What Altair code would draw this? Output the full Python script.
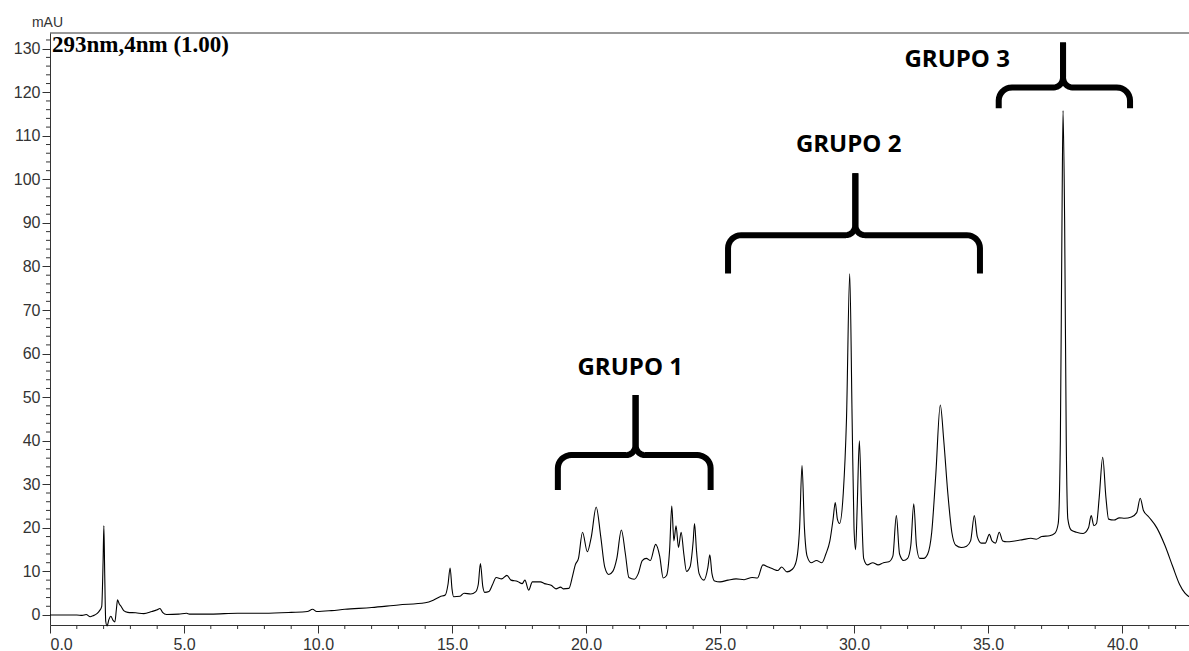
import math

import altair as alt
import pandas as pd

# ---- chromatogram trace: retention time (min) and absorbance (mAU) ----
time_min = [
    0.0, 1.0, 1.2, 1.35, 1.5, 1.6, 1.75, 1.85, 1.93, 1.98, 2.01, 2.04, 2.08, 2.13, 2.2,
    2.27, 2.35, 2.42, 2.48, 2.52, 2.58, 2.65, 2.75, 2.9, 3.2, 3.5, 3.8, 4.0, 4.1, 4.2,
    4.35, 4.8, 5.1, 5.2, 6.0, 7.0, 8.0, 9.0, 9.6, 9.8, 9.95, 10.5, 11.0, 12.0, 13.0,
    14.0, 14.3, 14.55, 14.75, 14.85, 14.93, 15.0, 15.06, 15.3, 15.45, 15.7, 15.88, 15.98, 16.06, 16.15,
    16.22, 16.38, 16.5, 16.65, 16.85, 17.05, 17.2, 17.45, 17.62, 17.72, 17.86, 18.0, 18.3, 18.45, 18.7,
    18.88, 19.05, 19.15, 19.36, 19.5, 19.6, 19.72, 19.87, 20.05, 20.2, 20.38, 20.55, 20.7, 20.85, 21.0,
    21.15, 21.32, 21.47, 21.6, 21.8, 21.95, 22.1, 22.25, 22.4, 22.6, 22.75, 22.88, 23.0, 23.12, 23.2,
    23.28, 23.36, 23.45, 23.55, 23.65, 23.75, 23.88, 24.0, 24.05, 24.12, 24.22, 24.4, 24.55, 24.62, 24.7,
    24.8, 25.0, 25.3, 25.6, 25.9, 26.2, 26.4, 26.6, 26.8, 27.0, 27.15, 27.3, 27.5, 27.7, 27.85,
    27.97, 28.06, 28.15, 28.25, 28.4, 28.6, 28.8, 28.95, 29.1, 29.22, 29.3, 29.38, 29.46, 29.6, 29.72,
    29.84, 29.93, 30.0, 30.06, 30.12, 30.2, 30.28, 30.36, 30.5, 30.7, 30.9, 31.1, 31.3, 31.45, 31.58,
    31.7, 31.85, 32.0, 32.12, 32.23, 32.33, 32.45, 32.6, 32.75, 32.9, 33.05, 33.22, 33.35, 33.5, 33.65,
    33.8, 34.0, 34.2, 34.35, 34.49, 34.6, 34.75, 34.9, 35.05, 35.15, 35.28, 35.42, 35.55, 35.7, 36.0,
    36.3, 36.6, 36.8, 37.0, 37.3, 37.5, 37.62, 37.7, 37.76, 37.8, 37.86, 37.92, 37.98, 38.1, 38.3,
    38.55, 38.75, 38.85, 38.95, 39.05, 39.15, 39.28, 39.4, 39.5, 39.7, 39.9, 40.1, 40.35, 40.55, 40.68,
    40.8, 41.0, 41.3, 41.6, 41.9, 42.15, 42.35, 42.5,
]
absorbance = [
    0.0, 0.0, -0.1, 0.1, -0.4, -0.2, 0.3, 1.0, 2.0, 12.0, 20.5, 10.0, -1.5, -2.5, -1.0,
    -0.3, -1.2, -1.6, 1.5, 3.5, 2.6, 2.0, 1.0, 0.6, 0.5, 0.3, 0.8, 1.2, 1.5, 0.6,
    0.1, 0.2, 0.4, 0.2, 0.2, 0.4, 0.4, 0.6, 0.8, 1.3, 0.8, 1.0, 1.3, 1.7, 2.3,
    2.8, 3.4, 4.2, 4.6, 7.0, 10.8, 6.0, 4.2, 4.3, 5.0, 4.8, 5.3, 7.0, 11.8, 6.5,
    5.2, 5.4, 6.8, 8.6, 8.3, 9.1, 8.0, 7.7, 7.2, 8.0, 5.7, 7.6, 7.6, 7.2, 6.8,
    6.0, 6.4, 6.0, 6.1, 9.0, 11.5, 13.0, 19.0, 14.5, 18.0, 24.8, 18.0, 11.0, 9.3, 10.0,
    13.0, 19.5, 14.0, 8.6, 8.2, 9.5, 12.5, 13.0, 12.5, 16.2, 13.5, 8.5, 9.0, 15.0, 25.0,
    17.0, 20.5, 15.5, 19.0, 14.0, 10.0, 11.0, 17.0, 21.0, 15.0, 9.5, 8.0, 11.0, 13.8, 9.5,
    7.8, 7.6, 8.0, 8.3, 8.1, 8.6, 8.5, 11.5, 11.0, 10.5, 10.2, 11.0, 9.9, 10.5, 12.5,
    20.0, 34.3, 20.0, 13.5, 12.0, 12.5, 12.0, 14.0, 17.0, 22.0, 25.8, 22.0, 21.0, 28.0, 45.0,
    78.3, 45.0, 20.0, 15.0, 25.0, 40.0, 25.0, 13.0, 11.5, 12.0, 11.5, 12.0, 12.2, 13.5, 22.8,
    14.0, 12.5, 13.0, 16.0, 25.5, 16.0, 13.0, 13.0, 14.0, 19.0, 32.0, 48.2, 40.0, 28.0, 19.0,
    16.0, 15.5, 15.8, 17.0, 22.8, 18.0, 16.5, 16.5, 18.5, 17.0, 16.5, 19.0, 17.0, 16.8, 17.0,
    17.3, 17.6, 17.4, 18.0, 18.2, 18.8, 21.0, 40.0, 90.0, 115.8, 90.0, 40.0, 22.0, 19.5, 19.0,
    18.7, 20.0, 22.8, 20.5, 21.0, 27.0, 36.2, 27.0, 22.0, 21.8, 22.3, 22.2, 22.5, 23.5, 26.8,
    24.0, 22.5, 20.0, 16.0, 11.0, 7.0, 5.0, 4.2,
]

# ---- axis ticks ----
x_major = [0, 5, 10, 15, 20, 25, 30, 35, 40]
x_minor = [v for v in range(0, 43) if v % 5 != 0]
y_major = list(range(0, 131, 10))
y_minor = [v for v in range(0, 133, 2) if v % 10 != 0]

# ---- peak-group brackets ----
group_labels = ["GRUPO 1", "GRUPO 2", "GRUPO 3"]
brace_left = [18.95, 25.3, 35.4]
brace_right = [24.65, 34.7, 40.3]
brace_mid = [21.85, 30.05, 37.8]
brace_foot = [28.7, 78.4, 116.3]
brace_bar = [36.7, 87.2, 121.1]
brace_tip = [50.5, 101.4, 131.4]
label_x = [21.65, 29.8, 33.85]
label_y = [56.7, 108.0, 127.3]

X_DOMAIN = [0, 42.5]
Y_DOMAIN = [-2.3, 133.6]
PLOT_W, PLOT_H = 1139, 592
INK = "#333333"

trace = pd.DataFrame({"t": time_min, "mAU": absorbance})


def arc(cx, cy, rx, ry, a0, a1, n=8):
    pts = []
    for k in range(n + 1):
        a = math.radians(a0 + (a1 - a0) * k / n)
        pts.append((cx + rx * math.cos(a), cy + ry * math.sin(a)))
    return pts


def brace_rows(i):
    left, right, mid = brace_left[i], brace_right[i], brace_mid[i]
    foot, bar, tip = brace_foot[i], brace_bar[i], brace_tip[i]
    crx, cry = 0.5, 3.0   # outer corners
    krx, kry = 0.35, 2.3  # inner cusp
    halves = {
        "L": [(left, foot)]
        + arc(left + crx, bar - cry, crx, cry, 180, 90)
        + arc(mid - krx, bar + kry, krx, kry, 270, 360)
        + [(mid, tip)],
        "R": [(right, foot)]
        + arc(right - crx, bar - cry, crx, cry, 0, 90)
        + arc(mid + krx, bar + kry, krx, kry, 270, 180)
        + [(mid, tip)],
    }
    rows = []
    for side, pts in halves.items():
        for j, (x, y) in enumerate(pts):
            rows.append({"part": f"{i}{side}", "seq": j, "x": x, "y": y})
    return rows


braces = pd.DataFrame([r for i in range(len(group_labels)) for r in brace_rows(i)])
labels = pd.DataFrame({"label": group_labels, "x": label_x, "y": label_y})
one_row = pd.DataFrame({"heading": ["293nm,4nm (1.00)"]})
xminor_df = pd.DataFrame({"t": x_minor})
yminor_df = pd.DataFrame({"v": y_minor})

x_scale = alt.Scale(domain=X_DOMAIN, nice=False, zero=False)
y_scale = alt.Scale(domain=Y_DOMAIN, nice=False, zero=False)

x_axis = alt.Axis(
    title=None,
    values=x_major,
    format=".1f",
    tickSize=8,
    labelPadding=3,
    labelOverlap=False,
    labelFontSize=16,
    grid=False,
)
y_axis = alt.Axis(
    title="mAU",
    titleAngle=0,
    titleAlign="center",
    titleBaseline="alphabetic",
    titleX=-3,
    titleY=-7,
    titleFontSize=14,
    titleFontWeight="normal",
    titleFont="Liberation Sans",
    titleColor=INK,
    values=y_major,
    format="d",
    tickSize=8,
    labelPadding=2,
    labelOverlap=False,
    labelFontSize=16,
    grid=False,
)

X = lambda f: alt.X(f, scale=x_scale, axis=x_axis)
Y = lambda f: alt.Y(f, scale=y_scale, axis=y_axis)

line = alt.Chart(trace).mark_line(
    color="black", strokeWidth=1.1, interpolate="monotone"
).encode(x=X("t:Q"), y=Y("mAU:Q"))

# short minor ticks just outside the plot edges
x_minor_ticks = alt.Chart(xminor_df).mark_rule(color=INK, strokeWidth=1).encode(
    x=X("t:Q"), y=alt.value(PLOT_H), y2=alt.value(PLOT_H + 4)
)
y_minor_ticks = alt.Chart(yminor_df).mark_rule(color=INK, strokeWidth=1).encode(
    y=Y("v:Q"), x=alt.value(-4), x2=alt.value(0)
)

frame_top = alt.Chart(one_row).mark_rule(color=INK, strokeWidth=1).encode(
    x=alt.value(0), x2=alt.value(PLOT_W), y=alt.value(0)
)

heading = alt.Chart(one_row).mark_text(
    align="left",
    baseline="alphabetic",
    font="Liberation Serif",
    fontWeight="bold",
    fontSize=23,
    color="black",
).encode(x=alt.value(2), y=alt.value(19), text="heading:N")

brace_marks = alt.Chart(braces).mark_line(
    color="black", strokeWidth=6, strokeCap="butt", strokeJoin="round"
).encode(
    x=X("x:Q"),
    y=Y("y:Q"),
    detail="part:N",
    order="seq:Q",
)

group_text = alt.Chart(labels).mark_text(
    font="Open Sans",
    fontWeight="bold",
    fontSize=24,
    color="black",
    align="center",
    baseline="middle",
).encode(x=X("x:Q"), y=Y("y:Q"), text="label:N")

chart = (
    alt.layer(line, x_minor_ticks, y_minor_ticks, brace_marks, group_text, frame_top, heading)
    .properties(
        width=PLOT_W,
        height=PLOT_H,
        autosize=alt.AutoSizeParams(type="none"),
        padding={"left": 50, "top": 33, "right": 0, "bottom": 26},
        background="white",
    )
    .configure_view(stroke=None)
    .configure_axis(
        domainColor=INK,
        tickColor=INK,
        labelColor=INK,
        labelFont="Liberation Sans",
        labelOverlap=False,
    )
)

chart.save("out.html", embed_options={"renderer": "svg", "actions": False})
